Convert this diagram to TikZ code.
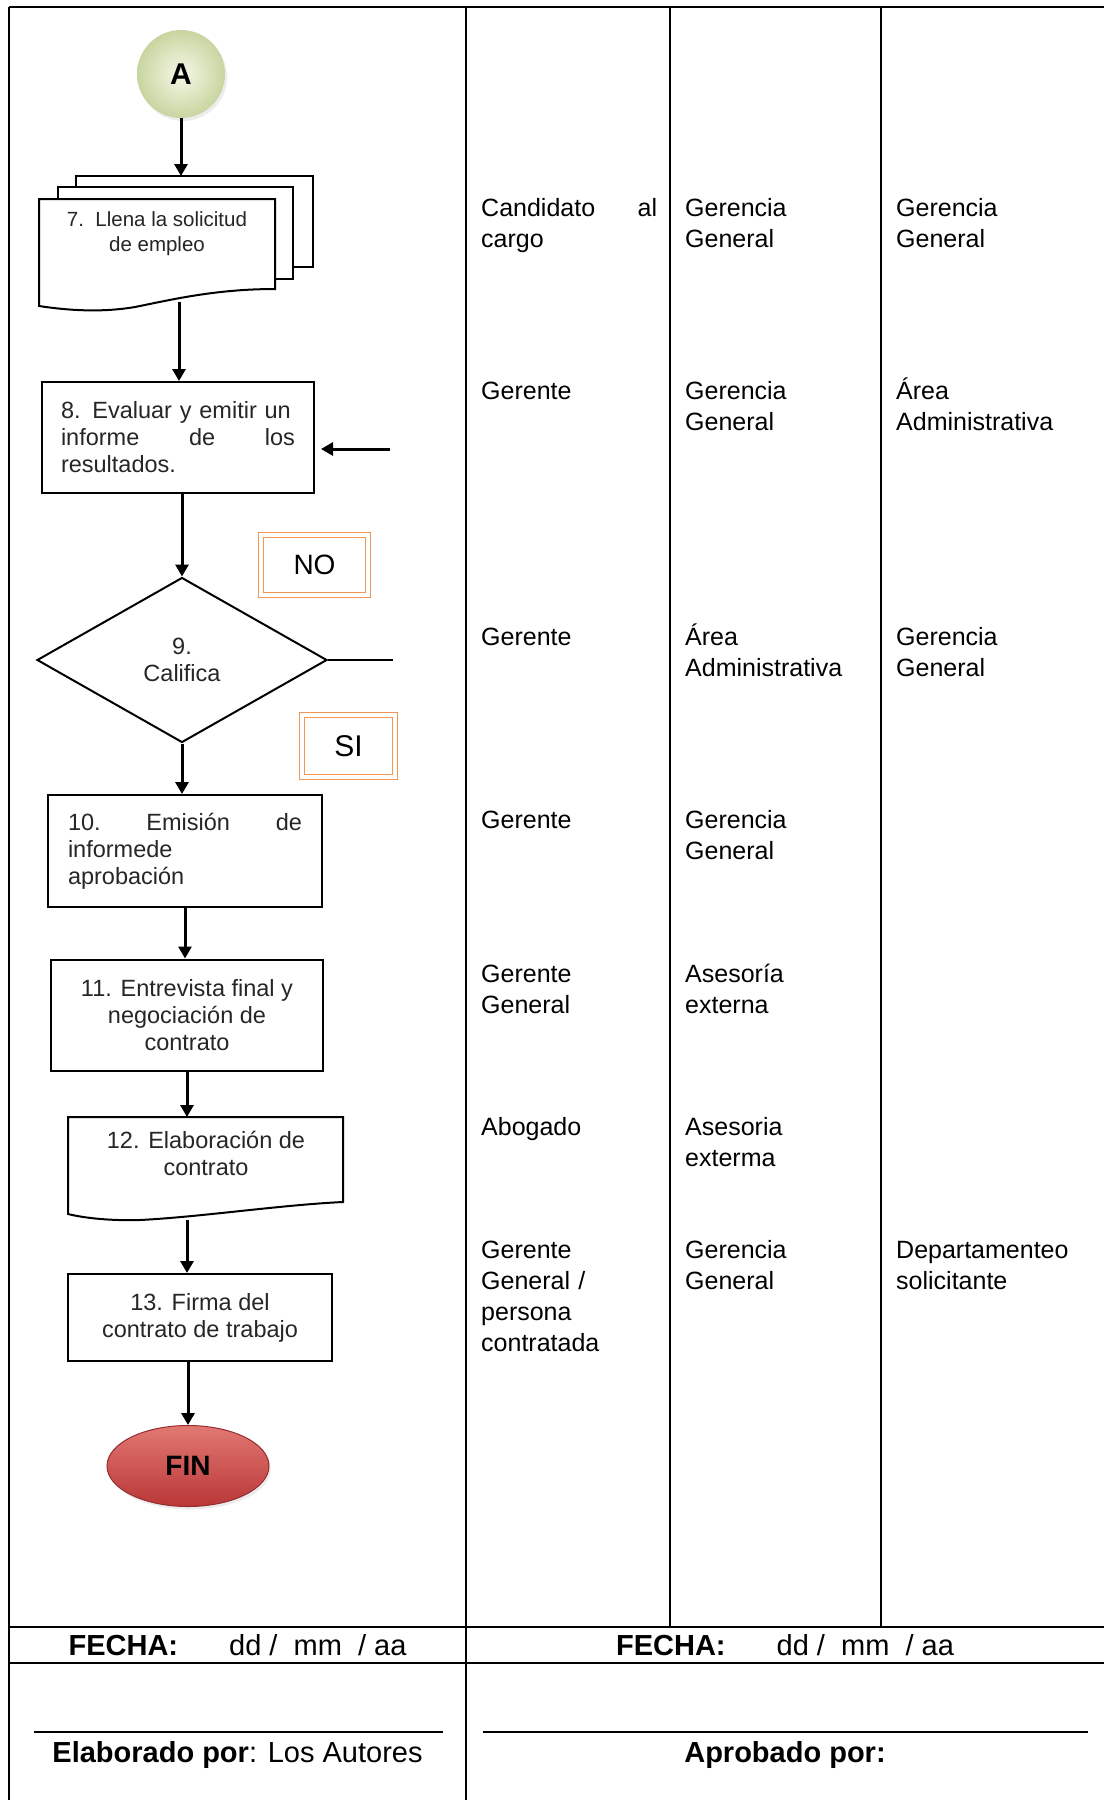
\documentclass[tikz,border=0pt]{standalone}
\usepackage{fontspec}
\setmainfont{Liberation Sans}
\usepackage{xcolor}
\usetikzlibrary{arrows.meta,shapes.geometric,positioning,shadows}

\definecolor{tagorange}{RGB}{241,150,85}
\definecolor{startin}{RGB}{246,248,232}
\definecolor{startout}{RGB}{200,213,160}
\definecolor{endtop}{RGB}{226,120,115}
\definecolor{endbot}{RGB}{185,55,55}
\definecolor{endline}{RGB}{150,45,45}

\begin{document}
\begin{tikzpicture}[x=1pt,y=-1pt,
    every node/.style={inner sep=0pt},
    arr/.style={line width=3pt,-{Triangle[width=13pt,length=12pt]}},
    grid/.style={line width=2pt},
    paper/.style={line width=2pt,fill=white},
    stepbox/.style={draw,line width=2pt,fill=white,text=black!85,
        font=\fontsize{23.5}{27}\selectfont},
    steptext/.style={align=center,text=black!85,font=\fontsize{23.5}{27}\selectfont},
    tag/.style={draw=tagorange,line width=1.3pt,double=white,double distance=3.5pt},
    cell/.style={anchor=base west,align=left,font=\fontsize{25}{31}\selectfont},
    foot/.style={anchor=base,font=\fontsize{29}{34}\selectfont}]
    \useasboundingbox (0,0) rectangle (1104,1800);

    % Table frame
    \draw[grid] (9,7) -- (1104,7);
    \draw[grid] (9,7) -- (9,1800);
    \draw[grid] (466,7) -- (466,1800);
    \draw[grid] (670,7) -- (670,1627);
    \draw[grid] (881,7) -- (881,1627);
    \draw[grid] (9,1627) -- (1104,1627);
    \draw[grid] (9,1663) -- (1104,1663);
    \draw[line width=1.5pt] (34,1732) -- (443,1732);
    \draw[line width=1.5pt] (483,1732) -- (1088,1732);

    % Connector A
    \node[circle, minimum size=88pt, shade, inner color=startin, outer color=startout,
        drop shadow={opacity=0.15,shadow xshift=2pt,shadow yshift=-3pt},
        font=\fontsize{30}{30}\selectfont\bfseries] (A) at (181,74) {A};

    % Step 7: stack of documents
    \draw[line width=1.5pt, fill=white] (76,176) rectangle (313,267);
    \draw[line width=1.5pt, fill=white] (58,187) rectangle (293,279);
    \draw[paper] (39,199) -- (275,199) -- (275,289)
        .. controls (215,289) and (170,300) .. (135,307)
        .. controls (100,313) and (65,310) .. (39,306) -- cycle;
    \node[align=center, text=black!85, font=\fontsize{20.5}{25}\selectfont]
        (t7) at (157,234) {7.\ \ Llena la solicitud\\de empleo};
    \coordinate (top7) at (181,176);
    \coordinate (bot7) at (179,302);
    \draw[arr] (A) -- (top7);

    % Step 8
    \node[stepbox, minimum width=272pt, minimum height=111pt, text width=234pt, align=left]
        (s8) at (178,437.5) {8. Evaluar y emitir un\\informe\hfill de\hfill los\\resultados.};
    \draw[arr] (bot7) -- (bot7 |- s8.north);
    \coordinate (in8) at (390,449);
    \draw[arr] (in8) -- ([xshift=6pt]in8 -| s8.east);

    % Step 9: decision
    \node[diamond, draw, line width=2pt, fill=white, minimum width=290pt, minimum height=165pt,
        align=center, text=black!85, font=\fontsize{23.5}{27}\selectfont]
        (q9) at (182,660) {9.\\Califica};
    \draw[arr] (s8.south -| q9.north) -- (q9.north);
    \coordinate (no9) at (393,660);
    \draw[line width=2pt] (q9.east) -- (no9);
    \node[tag, minimum width=107pt, minimum height=60pt, font=\fontsize{28}{28}\selectfont]
        (no) at (314.5,565) {NO};
    \node[tag, minimum width=93pt, minimum height=62pt, font=\fontsize{30}{30}\selectfont]
        (si) at (348.5,746) {SI};

    % Steps 10 and 11
    \node[stepbox, minimum width=274pt, minimum height=112pt, text width=234pt, align=left]
        (s10) at (185,851) {10.\hfill Emisión\hfill de\\informede\\aprobación};
    \draw[arr] (q9.south) -- (q9.south |- s10.north);
    \node[stepbox, minimum width=272pt, minimum height=111pt, align=center]
        (s11) at (187,1015) {11. Entrevista final y\\negociación de\\contrato};
    \draw[arr] (s10.south) -- (s10.south |- s11.north);

    % Step 12: document
    \draw[paper] (68,1117) -- (343,1117) -- (343,1202)
        .. controls (280,1205) and (200,1217) .. (140,1220)
        .. controls (105,1221) and (80,1217) .. (68,1214) -- cycle;
    \node[steptext] (t12) at (206,1153) {12. Elaboración de\\contrato};
    \coordinate (top12) at (187,1117);
    \coordinate (bot12) at (187,1220);
    \draw[arr] (s11.south) -- (top12);

    % Step 13 and end
    \node[stepbox, minimum width=264pt, minimum height=87pt, align=center]
        (s13) at (200,1317.5) {13. Firma del\\contrato de trabajo};
    \draw[arr] (bot12) -- (bot12 |- s13.north);
    \node[ellipse, draw=endline, line width=1pt, top color=endtop, bottom color=endbot,
        drop shadow={opacity=0.15,shadow xshift=2pt,shadow yshift=-3pt},
        minimum width=162pt, minimum height=81pt, font=\fontsize{28}{28}\selectfont\bfseries]
        (fin) at (188,1466) {FIN};
    \draw[arr] (s13.south -| fin.north) -- (fin.north);

    % Responsible areas
    \foreach \y/\a/\b [count=\i] in {
        216/{Candidato\hfill al\\cargo}/{Gerencia\\General},
        399/Gerente/{Gerencia\\General},
        645/Gerente/{Área\\Administrativa},
        828/Gerente/{Gerencia\\General},
        982/{Gerente\\General}/{Asesoría\\externa},
        1135/Abogado/{Asesoria\\exterma},
        1258/{Gerente\\General /\\persona\\contratada}/{Gerencia\\General}
    } {
        \node[cell, text width=176pt] (who\i) at (481,\y) {\a};
        \node[cell, text width=180pt] (by\i) at (685,\y) {\b};
    }
    \foreach \y/\c [count=\i] in {
        216/{Gerencia\\General},
        399/{Área\\Administrativa},
        645/{Gerencia\\General},
        1258/{Departamenteo\\solicitante}
    } {
        \node[cell, text width=200pt] (to\i) at (896,\y) {\c};
    }

    % Dates and signatures
    \node[foot] (date1) at (237.5,1655) {\textbf{FECHA:}\hspace{51pt}dd /\ \ mm\ \ / aa};
    \node[foot] (date2) at (785,1655) {\textbf{FECHA:}\hspace{51pt}dd /\ \ mm\ \ / aa};
    \node[foot] (made) at (237.5,1762) {\textbf{Elaborado por}: Los Autores};
    \node[foot] (okd) at (785,1762) {\textbf{Aprobado por:}};
\end{tikzpicture}
\end{document}
